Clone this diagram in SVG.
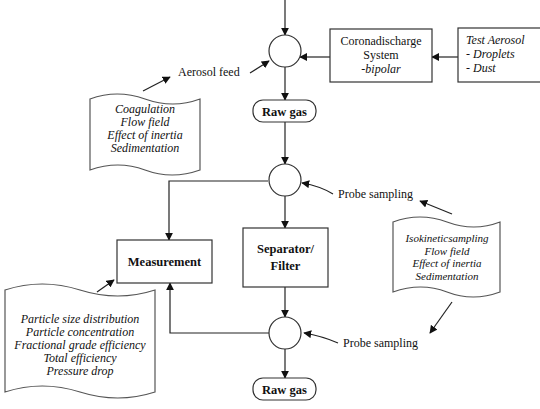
<svg xmlns="http://www.w3.org/2000/svg" width="540" height="409" viewBox="0 0 540 409">
<defs>
<marker id="ah" viewBox="0 0 10 10" refX="9" refY="5" markerWidth="8" markerHeight="8" markerUnits="userSpaceOnUse" orient="auto">
<path d="M0,0 L10,5 L0,10 z" fill="#111"/>
</marker>
<style>
.box{fill:#fff;stroke:#333;stroke-width:1.2}
.doc{fill:#fff;stroke:#555;stroke-width:1.2}
.ln{fill:none;stroke:#222;stroke-width:1.2}
.ar{fill:none;stroke:#222;stroke-width:1.2;marker-end:url(#ah)}
.t{font-family:"Liberation Serif",serif;font-size:12px;fill:#111}
.i{font-family:"Liberation Serif",serif;font-size:12px;font-style:italic;fill:#111}
.s{font-size:11px}
.b{font-family:"Liberation Serif",serif;font-size:12.5px;font-weight:bold;fill:#111}
.c{text-anchor:middle}
</style>
</defs>
<rect width="540" height="409" fill="#fff"/>
<g id="connectors">
<path class="ar" d="M285,0 V35"/>
<path class="ar" d="M458,57 H432"/>
<path class="ar" d="M330,57 H300"/>
<path class="ar" d="M250,73 L269,61"/>
<path class="ar" d="M143,91 L170,77"/>
<path class="ar" d="M285,67 V100"/>
<path class="ar" d="M285,122 V164"/>
<path class="ar" d="M268,181 H169 V240"/>
<path class="ar" d="M285,196 V228"/>
<path class="ar" d="M333,194 Q320,186 302,183"/>
<path class="ar" d="M452,214 L420,201"/>
<path class="ar" d="M452,302 L430,333"/>
<path class="ar" d="M285,287 V317"/>
<path class="ar" d="M338,343 Q322,336 304,333"/>
<path class="ar" d="M269,333 H170 V283"/>
<path class="ar" d="M285,349 V378"/>
<path class="ar" d="M97,292 L114,280"/>
</g>
<g id="mix1"><circle class="box" cx="285" cy="51" r="16"/></g>
<g id="corona">
<rect class="box" x="330" y="29" width="102" height="53"/>
<text class="t c" x="381" y="45">Coronadischarge</text>
<text class="t c" x="381" y="59">System</text>
<text class="i c" x="381" y="73">-bipolar</text>
</g>
<g id="testaerosol">
<rect class="box" x="458" y="28" width="90" height="54"/>
<text class="i" x="466" y="44">Test Aerosol</text>
<text class="i" x="466" y="58">- Droplets</text>
<text class="i" x="466" y="72">- Dust</text>
</g>
<g id="feed"><text class="t" x="178" y="76">Aerosol feed</text></g>
<g id="doc1">
<path class="doc" d="M90,99 Q117,89 145,99 T200,99 V170 Q172,180 145,170 T90,170 Z"/>
<text class="i c" x="145" y="113">Coagulation</text>
<text class="i c" x="145" y="126">Flow field</text>
<text class="i c" x="145" y="139">Effect of inertia</text>
<text class="i c" x="145" y="152">Sedimentation</text>
</g>
<g id="rawgas1">
<rect class="box" x="253" y="100" width="63" height="22" rx="10"/>
<text class="b c" x="284.5" y="115.5">Raw gas</text>
</g>
<g id="mix2"><circle class="box" cx="285" cy="180" r="16"/></g>
<g id="measurement">
<rect class="box" x="117" y="240" width="95" height="43"/>
<text class="b c" x="164.5" y="266">Measurement</text>
</g>
<g id="separator">
<rect class="box" x="243" y="228" width="85" height="59"/>
<text class="b c" x="285.5" y="253">Separator/</text>
<text class="b c" x="285.5" y="270">Filter</text>
</g>
<g id="probe1"><text class="t" x="338" y="198">Probe sampling</text></g>
<g id="doc2">
<path class="doc" d="M393,222 Q420,212 447,222 T500,222 V292 Q473,302 447,292 T393,292 Z"/>
<text class="i s c" x="447" y="242">Isokineticsampling</text>
<text class="i s c" x="447" y="254.5">Flow field</text>
<text class="i s c" x="447" y="267">Effect of inertia</text>
<text class="i s c" x="447" y="279.5">Sedimentation</text>
</g>
<g id="mix3"><circle class="box" cx="285" cy="333" r="16"/></g>
<g id="probe2"><text class="t" x="343" y="347">Probe sampling</text></g>
<g id="rawgas2">
<rect class="box" x="253" y="378" width="63" height="22" rx="10"/>
<text class="b c" x="284.5" y="393.5">Raw gas</text>
</g>
<g id="doc3">
<path class="doc" d="M5,290 Q42,278 80,290 T155,290 V392 Q118,404 80,392 T5,392 Z"/>
<text class="i c" x="80" y="323">Particle size distribution</text>
<text class="i c" x="80" y="336">Particle concentration</text>
<text class="i c" x="80" y="349">Fractional grade efficiency</text>
<text class="i c" x="80" y="362">Total efficiency</text>
<text class="i c" x="80" y="375">Pressure drop</text>
</g>
</svg>
